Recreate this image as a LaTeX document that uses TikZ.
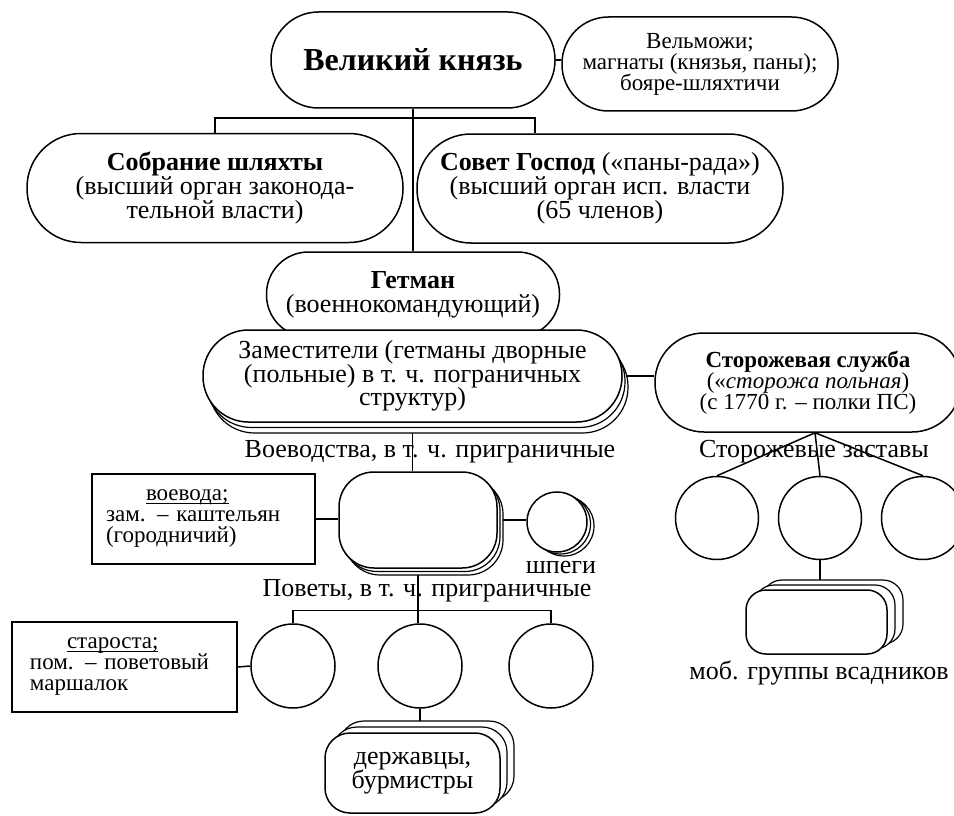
\documentclass[tikz,border=0pt]{standalone}
\usepackage{fontspec}
\setmainfont{Liberation Serif}
\usepackage{tikz}
\usetikzlibrary{shadows}
\usetikzlibrary{backgrounds}

\lineskiplimit=-40pt
\newcommand{\txtbig}{\fontsize{32}{36}\selectfont\bfseries}
\newcommand{\txtmain}{\fontsize{26}{24}\selectfont}
\newcommand{\txttight}{\fontsize{26}{23.5}\selectfont}
\newcommand{\txtsmall}{\fontsize{23}{21}\selectfont}
\newcommand{\ulword}[1]{\setbox0\hbox{#1}\rlap{\rule[-3.5pt]{\wd0}{1pt}}\box0}

\tikzset{
  pill/.style={draw, line width=1.5pt, fill=white, rounded corners=#1, align=center, inner sep=0pt},
  ring/.style={draw, circle, line width=1.5pt, fill=white, minimum size=#1, inner sep=0pt},
  frame/.style={draw, rectangle, line width=1.5pt, fill=white, align=left, inner ysep=0pt},
  layer/.style={fill=white, draw=black, line width=1.2pt},
  lbl/.style={inner sep=0pt, font=\txtmain},
  link/.style={line width=1.5pt}
}

\begin{document}
\begin{tikzpicture}[x=1pt, y=-1pt]
\useasboundingbox (0,0) rectangle (954,816);

% верхний уровень
\node[pill=47.5pt, minimum width=284pt, minimum height=96pt, font=\txtbig] (knyaz) at (413,60) {Великий князь};
\node[pill=46.5pt, minimum width=276pt, minimum height=94pt, font=\txtsmall] (velm) at (700,64) {Вельможи;\\магнаты (князья, паны);\\бояре-шляхтичи};
\node[pill=54pt, minimum width=376pt, minimum height=109pt, font=\txtmain] (sobr) at (215,188) {\textbf{Собрание шляхты}\\(высший орган законода-\\тельной власти)};
\node[pill=54pt, minimum width=366pt, minimum height=109pt, font=\txtmain] (sovet) at (600,188.5) {\textbf{Совет Господ} («паны-рада»)\\(высший орган исп. власти\\(65 членов)};

% гетман и заместители
\node[pill=42pt, minimum width=293pt, minimum height=85pt, font=\txtmain] (getman) at (413,294.5) {\textbf{Гетман}\\(военнокомандующий)};
\node[pill=45.5pt, minimum width=419pt, minimum height=92pt, font=\txttight,
  copy shadow={shadow xshift=6pt, shadow yshift=-11pt, layer},
  copy shadow={shadow xshift=3pt, shadow yshift=-5.5pt, layer}] (zam) at (412.5,376) {Заместители (гетманы дворные\\(польные) в т. ч. пограничных\\структур)};
\node[pill=49pt, minimum width=306pt, minimum height=99pt, font=\txtsmall] (stor) at (808,382.5) {\textbf{Сторожевая служба}\\(«\textit{сторожа польная})\\(с 1770 г. – полки ПС)};

% воеводства
\node[lbl] (voevlbl) at (430,452) {Воеводства, в т. ч. приграничные};
\node[pill=35pt, minimum width=158pt, minimum height=96pt,
  copy shadow={shadow xshift=6pt, shadow yshift=-7pt, layer},
  copy shadow={shadow xshift=3pt, shadow yshift=-3.5pt, layer}] (voev) at (418,520) {};
\node[frame, minimum width=223pt, minimum height=90pt, inner xsep=14pt, text width=195pt, font=\txtsmall] (voevoda) at (203.5,519) {\hspace*{40pt}\ulword{воевода;}\\зам. – каштельян\\(городничий)};
\node[ring=60pt,
  copy shadow={shadow xshift=7pt, shadow yshift=-4pt, layer},
  copy shadow={shadow xshift=3.5pt, shadow yshift=-2pt, layer}] (shpegi) at (557,522) {};
\node[lbl] (shplbl) at (561,567) {шпеги};

% поветы
\node[lbl] (povlbl) at (427,591) {Поветы, в т. ч. приграничные};
\node[ring=84pt] (pov1) at (293,666) {};
\node[ring=84pt] (pov2) at (420,666) {};
\node[ring=84pt] (pov3) at (551,666) {};
\node[frame, minimum width=225pt, minimum height=90pt, inner xsep=18pt, text width=189pt, font=\txtsmall] (starosta) at (124.5,667) {\hspace*{37pt}\ulword{староста;}\\пом. – поветовый\\маршалок};
\node[pill=25pt, minimum width=175pt, minimum height=80pt, font=\txttight,
  copy shadow={shadow xshift=14pt, shadow yshift=12pt, layer},
  copy shadow={shadow xshift=7pt, shadow yshift=6pt, layer}] (derzh) at (412.5,773) {державцы,\\бурмистры};

% сторожевые заставы
\node[lbl] (zastlbl) at (814,452) {Сторожевые заставы};
\node[ring=83pt] (zast1) at (717,518) {};
\node[ring=83pt] (zast2) at (820,518) {};
\node[ring=83pt] (zast3) at (923,518) {};
\node[pill=20pt, minimum width=141pt, minimum height=64pt,
  copy shadow={shadow xshift=16pt, shadow yshift=10pt, layer},
  copy shadow={shadow xshift=8pt, shadow yshift=5pt, layer}] (mob) at (816.5,622) {};
\node[lbl] (moblbl) at (819,673) {моб. группы всадников};

% связи
\begin{scope}[on background layer]
\draw[link] (knyaz.east) -- (knyaz.east -| velm.west);
\draw[link] (knyaz.south) -- (knyaz.south |- getman.north);
\draw[link] (sobr.north) -- ++(0,-15) -| ([xshift=-65pt]sovet.north);
\draw[link] (zam.south) -- (zam.south |- voev.north);
\draw[link] (zam.east) -- (zam.east -| stor.west);
\draw[link] (voevoda.east) -- (voevoda.east -| voev.west);
\draw[link] (voev.east) -- (voev.east -| shpegi.west);
\draw[link] (voev.south) -- (voev.south |- pov2.north);
\draw[link] (pov1.north) -- ++(0,-13) -| (pov3.north);
\draw[link] (starosta.east) -- (pov1.west);
\draw[link] (pov2.south) -- (pov2.south |- derzh.north);
\draw[link] ([xshift=7pt]stor.south) -- (zast1.north);
\draw[link] ([xshift=7pt]stor.south) -- (zast2.north);
\draw[link] ([xshift=7pt]stor.south) -- (zast3.north);
\draw[link] (zast2.south) -- (zast2.south |- mob.north);
\end{scope}

\end{tikzpicture}
\end{document}
